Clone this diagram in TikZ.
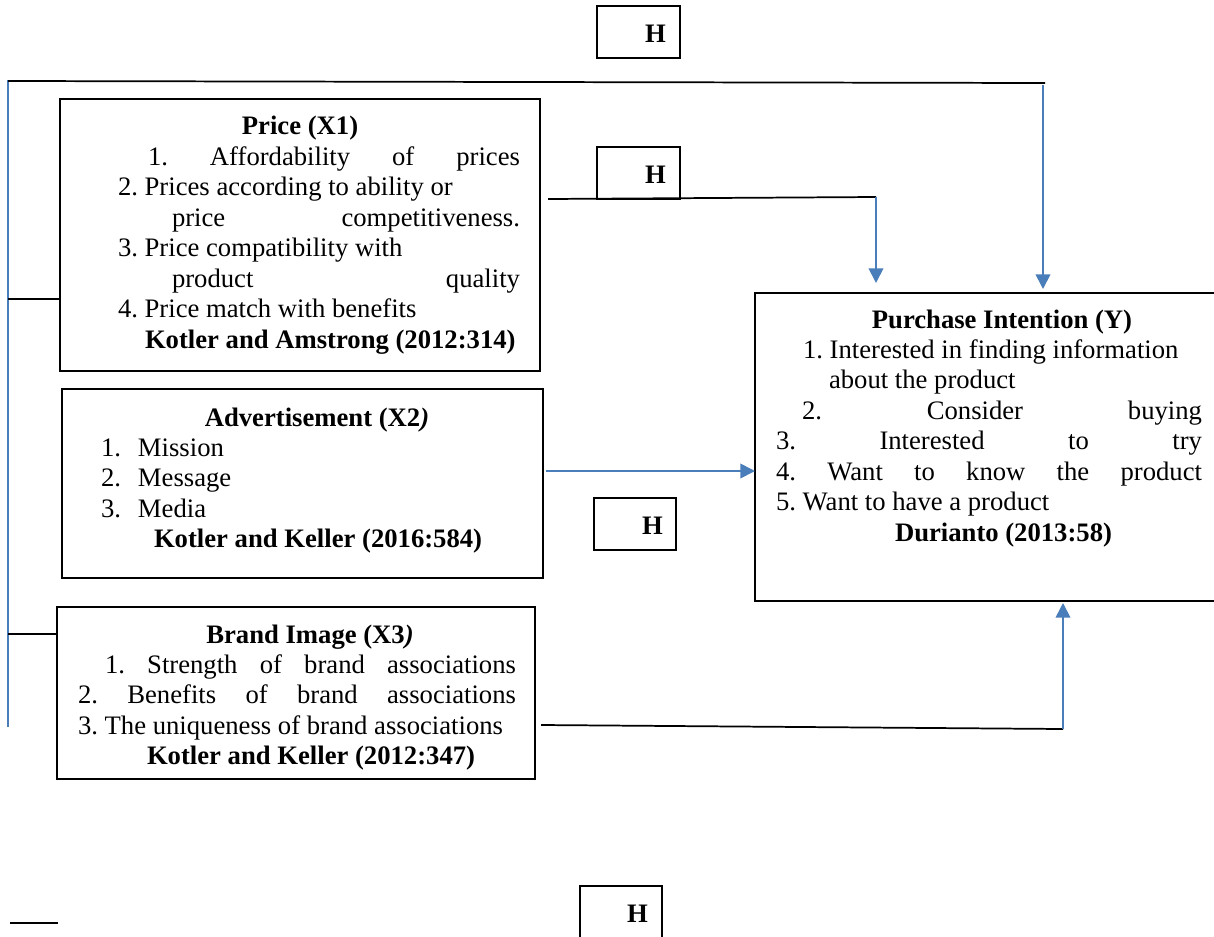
\documentclass[tikz,border=0pt]{standalone}
\usepackage{fontspec}
\setmainfont{Liberation Serif}
\usetikzlibrary{arrows.meta}
\definecolor{lblue}{HTML}{4A7EBB}
\frenchspacing
\begin{document}
\begin{tikzpicture}[x=0.75pt,y=-0.75pt,
  every node/.style={font=\fontsize{20pt}{22.9pt}\selectfont\frenchspacing, inner sep=0pt, outer sep=0pt},
  box/.style={draw=black, line width=1.3pt, rectangle},
  hbox/.style={box, minimum width=62.25pt, minimum height=39pt},
  txt/.style={anchor=base west, align=left},
  ttl/.style={anchor=base, font=\fontsize{20pt}{22.9pt}\selectfont\bfseries},
  hlab/.style={anchor=base west, font=\fontsize{20pt}{22.9pt}\selectfont\bfseries},
  blk/.style={draw=black, line width=1.3pt},
  bline/.style={draw=lblue, line width=1.3pt},
  barrow/.style={draw=lblue, line width=1.3pt, -{Triangle[length=11pt,width=11pt]}, color=lblue}
]
\useasboundingbox (0,0) rectangle (1214,936);

% ---------- boxes ----------
\node[box, minimum width=360pt, minimum height=204pt] (p) at (300,235) {};
\node[box, minimum width=360.75pt, minimum height=141.75pt] (a) at (302.5,483.5) {};
\node[box, minimum width=358.5pt, minimum height=129pt] (b) at (296,693) {};
\node[box, minimum width=345.75pt, minimum height=231pt] (pi) at (985.5,447) {};

\node[hbox] (h1) at (638.5,32) {};
\node[hbox] (h2) at (638.5,173) {};
\node[hbox, minimum width=61.5pt] (h3) at (635,524) {};
\node[hbox, minimum width=61.5pt, minimum height=42pt] (h4) at (621,914) {};

\node[hlab] (h1t) at (645,42) {H};
\node[hlab] (h2t) at (645,183) {H};
\node[hlab] (h3t) at (642,534) {H};
\node[hlab] (h4t) at (627,922) {H};

% ---------- Price ----------
\node[ttl] (pT) at (300,134) {Price (X1)};
\node[txt] (pL) at (118,165) {\parbox[t]{480pt}{\frenchspacing
\hspace*{22.5pt}\makebox[279pt][s]{1. Affordability of prices}\\
2. Prices according to ability or\\
\hspace*{40.5pt}\makebox[261pt][s]{price competitiveness.}\\
3. Price compatibility with\\
\hspace*{40.5pt}\makebox[261pt][s]{product quality}\\
4. Price match with benefits\\
\hspace*{20.25pt}\textbf{Kotler and Amstrong (2012:314)}}};

% ---------- Advertisement ----------
\node[ttl] (aT) at (317,426) {Advertisement (X2\textit{)}};
\node[txt] (aL) at (101,456) {\parbox[t]{480pt}{\frenchspacing
\makebox[27.75pt][l]{1.}Mission\\
\makebox[27.75pt][l]{2.}Message\\
\makebox[27.75pt][l]{3.}Media\\
\hspace*{39.75pt}\textbf{Kotler and Keller (2016:584)}}};

% ---------- Brand Image ----------
\node[ttl] (bT) at (310,643) {Brand Image (X3\textit{)}};
\node[txt] (bL) at (78,673) {\parbox[t]{480pt}{\frenchspacing
\hspace*{20.25pt}\makebox[308.25pt][s]{1. Strength of brand associations}\\
\makebox[328.5pt][s]{2. Benefits of brand associations}\\
3. The uniqueness of brand associations\\
\hspace*{51.75pt}\textbf{Kotler and Keller (2012:347)}}};

% ---------- Purchase Intention ----------
\node[ttl] (piT) at (1002,328) {Purchase Intention (Y)};
\node[txt] (piL) at (776,358) {\parbox[t]{480pt}{\frenchspacing
\hspace*{20.25pt}1. Interested in finding information\\
\hspace*{39.75pt}about the product\\
\hspace*{19.5pt}\makebox[300pt][s]{2. Consider buying}\\
\makebox[319.5pt][s]{3. Interested to try}\\
\makebox[319.5pt][s]{4. Want to know the product}\\
5. Want to have a product\\
\hspace*{89.25pt}\textbf{Durianto (2013:58)}}};

% ---------- connectors ----------
\coordinate (vt) at (8,80);
\coordinate (vb) at (8,727);
\draw[bline] (vt) -- (vb);

\coordinate (tl) at (8,81);
\coordinate (tr) at (1045,83);
\draw[blk] (tl) -- (tr);
\coordinate (ta) at (1043,85);
\draw[barrow, shorten >=3pt] (ta) -- (ta |- pi.north);

\coordinate (s1) at (8,299);
\draw[blk] (s1) -- (s1 -| p.west);

\coordinate (l2a) at (548,199);
\coordinate (l2b) at (876,197);
\draw[blk] (l2a) -- (l2b);
\draw[barrow, shorten >=7.5pt] (l2b) -- (l2b |- pi.north);

\coordinate (a2) at (546,471);
\draw[barrow] (a2) -- (a2 -| pi.west);

\coordinate (s2) at (8,634);
\draw[blk] (s2) -- (s2 -| b.west);

\coordinate (b2) at (541,725);
\coordinate (b3) at (1063,729);
\draw[blk] (b2) -- (b3);
\draw[barrow, shorten >=1.5pt] (b3) -- (b3 |- pi.south);

\coordinate (s3a) at (10,923);
\coordinate (s3b) at (58,923);
\draw[blk] (s3a) -- (s3b);
\end{tikzpicture}
\end{document}
